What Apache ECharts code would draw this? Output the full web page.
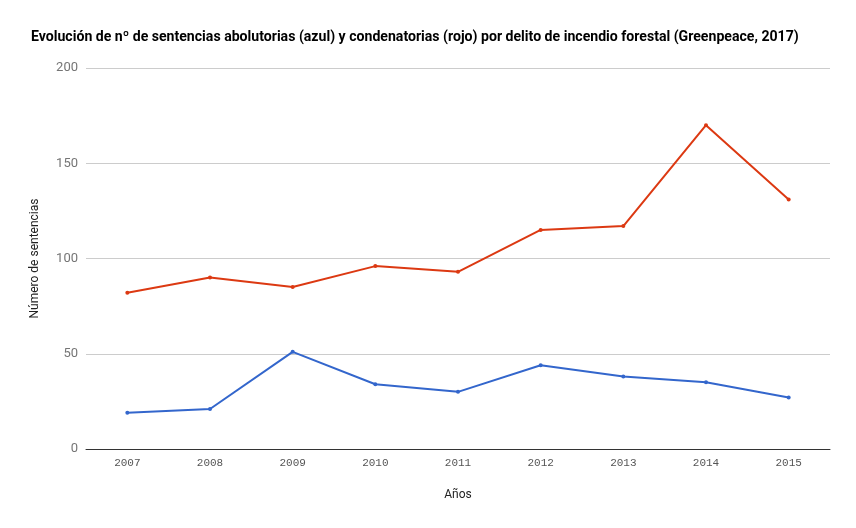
<!DOCTYPE html>
<html><head><meta charset="utf-8">
<script src="https://cdn.jsdelivr.net/npm/echarts@6/dist/echarts.min.js"></script>
<style>html,body{margin:0;padding:0;background:#fff}#c{width:856px;height:528px}</style>
</head><body><div id="c"></div>
<script>
const years = ['2007','2008','2009','2010','2011','2012','2013','2014','2015'];
const absolutorias = [19, 21, 51, 34, 30, 44, 38, 35, 27];
const condenatorias = [82, 90, 85, 96, 93, 115, 117, 170, 131];
const yTicks = {min: 0, max: 200, interval: 50};

const chart = echarts.init(document.getElementById('c'), null, {renderer: 'canvas'});
chart.setOption({
  animation: false,
  title: {
    text: 'Evolución de nº de sentencias abolutorias (azul) y condenatorias (rojo) por delito de incendio forestal (Greenpeace, 2017)',
    left: 26, top: 25,
    textStyle: {fontFamily: 'Roboto', fontWeight: 'bold', fontSize: 14.1, color: '#000'}
  },
  grid: {left: 86, right: 26, top: 68, bottom: 79},
  xAxis: {
    type: 'category', data: years, boundaryGap: true,
    name: 'Años', nameLocation: 'middle', nameGap: 40,
    nameTextStyle: {fontFamily: 'Roboto', fontSize: 12, color: '#222'},
    axisLine: {lineStyle: {color: '#333', width: 1}},
    axisTick: {show: false},
    axisLabel: {fontFamily: 'Liberation Mono', fontSize: 11, color: '#555', margin: 9}
  },
  yAxis: {
    type: 'value', min: yTicks.min, max: yTicks.max, interval: yTicks.interval,
    name: 'Número de sentencias', nameLocation: 'middle', nameGap: 45,
    nameTextStyle: {fontFamily: 'Roboto', fontSize: 12, color: '#222'},
    axisLine: {show: false}, axisTick: {show: false},
    axisLabel: {fontFamily: 'Roboto', fontSize: 13, color: '#757575', margin: 8},
    splitLine: {lineStyle: {color: '#cccccc', width: 1}}
  },
  series: [
    {type: 'line', name: 'Absolutorias', data: absolutorias,
     lineStyle: {color: '#3366cc', width: 2}, itemStyle: {color: '#3366cc'},
     symbol: 'circle', symbolSize: 4},
    {type: 'line', name: 'Condenatorias', data: condenatorias,
     lineStyle: {color: '#dc3912', width: 2}, itemStyle: {color: '#dc3912'},
     symbol: 'circle', symbolSize: 4}
  ]
});
</script></body></html>
